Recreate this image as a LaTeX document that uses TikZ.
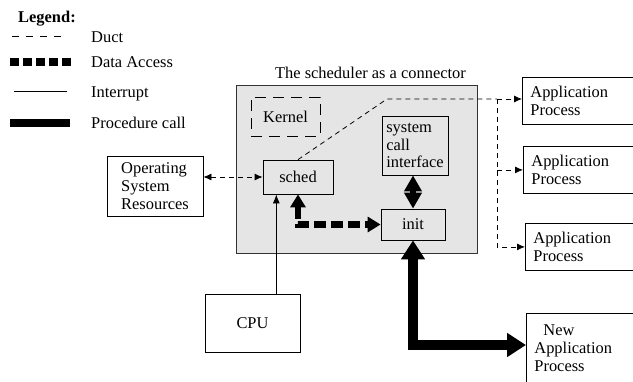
\documentclass[tikz,border=0pt]{standalone}
\usepackage{fontspec}
\setmainfont{Liberation Serif}
\usetikzlibrary{arrows.meta,positioning}

\begin{document}
\begin{tikzpicture}[x=1bp,y=-1bp,
  font=\fontsize{16.5}{18}\selectfont,
  box/.style={draw, line width=0.8bp, align=left, inner sep=0pt},
  appbox/.style={draw, line width=0.8bp, anchor=north west, inner xsep=8bp,
    text width=110bp, align=left, minimum height=47bp},
  sysbox/.style={draw=black!80, fill=black!10, line width=0.8bp, inner sep=0pt},
  legtext/.style={anchor=base west, inner sep=0pt},
  duct/.style={line width=0.8bp, dash pattern=on 5bp off 4bp},
  dacc/.style={line width=6.5bp, dash pattern=on 12bp off 5bp},
  intr/.style={line width=0.8bp},
  pcall/.style={line width=6bp},
  bigcall/.style={line width=10bp},
  ductend/.tip={Latex[length=8bp,width=7bp]},
  daccend/.tip={Triangle[length=13bp,width=15bp]},
  callend/.tip={Triangle[length=16bp,width=17bp]},
  bigend/.tip={Triangle[length=19bp,width=23bp]}]
\useasboundingbox (0,0) rectangle (633,381);
\clip (0,0) rectangle (633,381);

% legend
\node[legtext, font=\fontsize{16.5}{18}\selectfont\bfseries] (legend) at (18,22) {Legend:};
\draw[line width=0.8bp, dash pattern=on 7bp off 7bp] (12,36) -- (68,36);
\node[legtext] (lduct) at (91,42) {Duct};
\draw[line width=8bp, dash pattern=on 9bp off 4bp] (10,62) -- (73,62);
\node[legtext] (ldacc) at (91,67) {Data Access};
\draw[intr] (14,91) -- (67,91);
\node[legtext] (lintr) at (91,97) {Interrupt};
\draw[line width=7.5bp] (10,123) -- (70,123);
\node[legtext] (lcall) at (91,128) {Procedure call};

% the scheduler
\node[sysbox, minimum width=241bp, minimum height=168bp] (sys) at (356.5,169) {};
\node[above=5bp of sys.north, xshift=14bp, inner sep=1bp] (title) {The scheduler as a connector};
\node[box, dash pattern=on 11bp off 7bp, minimum width=69bp, minimum height=39bp] (kernel) at (285.5,116.5) {Kernel};
\node[box, minimum width=70bp, minimum height=34bp] (sched) at (298,177) {sched};
\node[box, minimum width=66bp, minimum height=59bp] (syscall) at (415,145.5) {system\\call\\interface};
\node[box, minimum width=64bp, minimum height=31bp] (init) at (413,224.5) {init};

% outside
\node[box, minimum width=96bp, minimum height=60bp] (osr) at (155,186) {Operating\\System\\Resources};
\node[box, minimum width=95bp, minimum height=58bp] (cpu) at (252.5,323) {CPU};
\node[appbox] (app1) at (522,77) {Application\\Process};
\node[appbox] (app2) at (523,146) {Application\\Process};
\node[appbox] (app3) at (525,223) {Application\\Process};
\node[appbox, minimum height=70bp] (newapp) at (526,313) {\hspace*{9bp}New\\Application\\Process};

% ducts
\coordinate (bend) at (387,99);
\coordinate (split) at (497,99);
\draw[duct, ductend-ductend] (osr.east |- sched.west) -- (sched.west);
\draw[duct] (sched.north) -- (bend) -- (split);
\draw[duct, -ductend] (split) -- (app1.west |- split);
\draw[duct, -ductend] (split |- app2.west) -- (app2.west);
\draw[duct, -ductend] (split) |- (app3.west);

% data access, interrupt, calls
\draw[dacc, daccend-daccend] (sched.south) |- (init.west);
\draw[intr, -{Latex[length=9bp,width=7bp]}] (cpu.51) -- (cpu.51 |- sched.south);
\draw[pcall, callend-callend] (init.north) -- (init.north |- syscall.south);
\draw[bigcall, bigend-bigend] (init.south) |- ([yshift=-32bp]newapp.north west);
\end{tikzpicture}
\end{document}
